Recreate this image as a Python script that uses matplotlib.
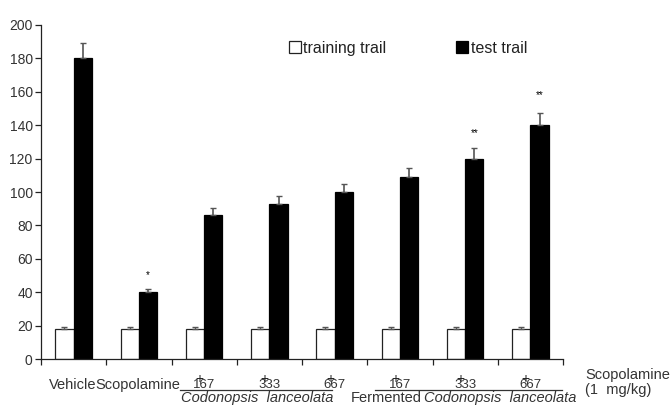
import numpy as np
import matplotlib
matplotlib.use("Agg")
import matplotlib.pyplot as plt

plt.rcParams['font.family'] = ['Liberation Sans', 'DejaVu Sans']

groups = ['Vehicle', 'Scopolamine', '167', '333', '667', '167', '333', '667']
training = [18, 18, 18, 18, 18, 18, 18, 18]
training_err = [1, 1, 1, 1, 1, 1, 1, 1]
test = [180, 40, 86, 93, 100, 109, 120, 140]
test_err = [9, 2, 4.5, 4.5, 5, 5.5, 6.5, 7.5]
stars = ['', '*', '', '', '', '', '**', '**']
star_y = [0, 50, 0, 0, 0, 0, 135, 158]

fig = plt.figure(figsize=(6.71, 4.11), dpi=100)
ax = fig.add_axes([41/671, 52/411, 522/671, 334/411])

x = np.arange(len(groups))
w = 0.28
ax.bar(x - w/2, training, w, color='white', edgecolor='#222222', linewidth=0.9,
       yerr=[np.zeros(8), training_err], capsize=2.5,
       error_kw=dict(ecolor='#555555', elinewidth=0.9), label='training trail')
ax.bar(x + w/2, test, w, color='black', edgecolor='black', linewidth=0.9,
       yerr=[np.zeros(8), test_err], capsize=2.5,
       error_kw=dict(ecolor='#555555', elinewidth=1.2), label='test trail')

for i in range(len(groups)):
    if stars[i]:
        ax.text(x[i] + w/2, star_y[i], stars[i], ha='center', va='center', fontsize=7)

ax.set_xlim(-0.5, len(groups) - 0.5)
ax.set_ylim(0, 200)
ax.set_yticks(range(0, 201, 20))
ax.set_xticks(np.arange(-0.5, len(groups), 1))
ax.set_xticklabels([])
ax.tick_params(axis='both', direction='out', length=4, width=0.9, colors='#222222',
               labelsize=10, pad=2)
ax.tick_params(axis='y', labelcolor='#333333')
for s in ['top', 'right']:
    ax.spines[s].set_visible(False)
for s in ['left', 'bottom']:
    ax.spines[s].set_color('#222222')
    ax.spines[s].set_linewidth(0.9)

tr = ax.get_xaxis_transform()
# group labels
ax.text(x[0] - 0.01, -0.077, groups[0], transform=tr, ha='center', va='center',
        fontsize=10.5, color='#333333')
ax.text(x[1] - 0.02, -0.077, groups[1], transform=tr, ha='center', va='center',
        fontsize=10.5, color='#333333')
for i in range(2, 8):
    ax.text(x[i], -0.077, groups[i], transform=tr, ha='center', va='center',
            fontsize=9.5, color='#333333')
    ax.text(x[i] - 0.07, -0.06, '+', transform=tr, ha='center', va='center',
            fontsize=10, color='#222222')

ax.plot([1.63, 3.96], [-0.093, -0.093], transform=tr, color='#333333', lw=0.9,
        clip_on=False)
ax.plot([4.62, 7.48], [-0.093, -0.093], transform=tr, color='#333333', lw=0.9,
        clip_on=False)
ax.text(2.81, -0.118, 'Codonopsis  lanceolata', transform=tr, ha='center',
        va='center', fontsize=10.5, style='italic', color='#333333')
ax.text(4.79, -0.118, 'Fermented', transform=tr, ha='center', va='center',
        fontsize=10.5, color='#333333')
ax.text(6.53, -0.118, 'Codonopsis  lanceolata', transform=tr, ha='center',
        va='center', fontsize=10.5, style='italic', color='#333333')
ax.text(7.84, -0.07, 'Scopolamine\n(1  mg/kg)', transform=tr, ha='left',
        va='center', fontsize=10.5, color='#333333', linespacing=1.15, clip_on=False)

ax.legend(loc='center left', bbox_to_anchor=(0.447, 0.93), ncol=2, frameon=False,
          fontsize=11.5, handlelength=0.75, handleheight=0.75, handletextpad=0.15,
          columnspacing=4.4, labelcolor='#222222')

fig.savefig('out.png', dpi=100)
